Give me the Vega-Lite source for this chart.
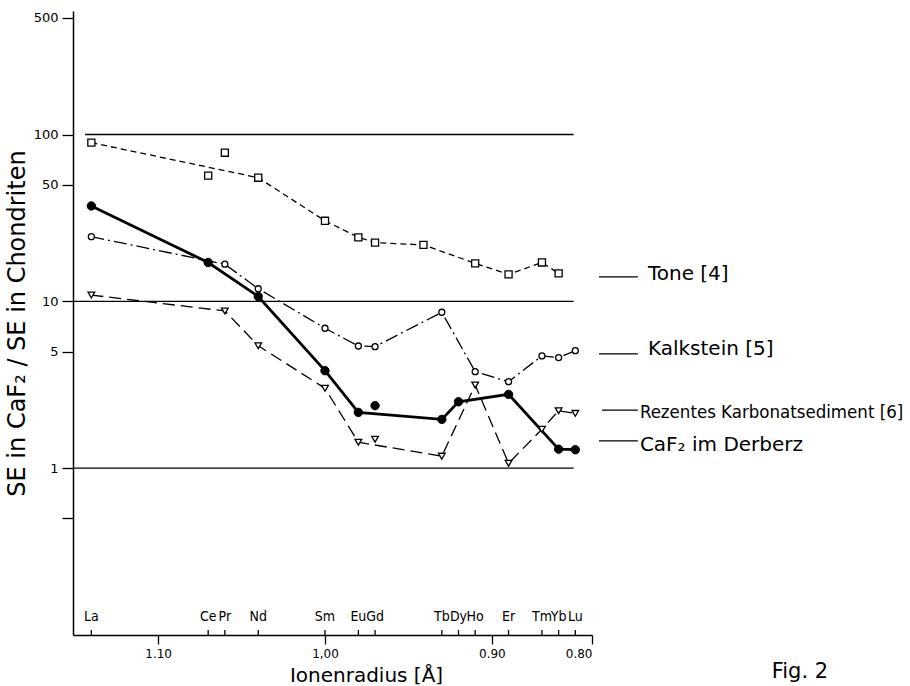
{
  "$schema": "https://vega.github.io/schema/vega-lite/v6.json",
  "width": 519,
  "height": 624,
  "autosize": {"type": "none"},
  "padding": {"left": 73, "top": 11, "right": 318, "bottom": 51},
  "background": "white",
  "config": {
    "view": {"stroke": null},
    "font": "DejaVu Sans",
    "axis": {"grid": false, "domainColor": "black", "tickColor": "black", "labelColor": "black", "titleColor": "black", "labelFont": "DejaVu Sans", "titleFont": "DejaVu Sans", "titleFontWeight": "normal", "domainWidth": 1.5, "tickWidth": 1.3}
  },
  "data": {"values": [
      {"series": "Tone", "el": "La", "r": 1.14, "v": 89.4},
      {"series": "Tone", "el": "Ce", "r": 1.07, "v": 56.7},
      {"series": "Tone", "el": "Pr", "r": 1.06, "v": 77.8},
      {"series": "Tone", "el": "Nd", "r": 1.04, "v": 55.1},
      {"series": "Tone", "el": "Sm", "r": 1.00, "v": 30.4},
      {"series": "Tone", "el": "Eu", "r": 0.98, "v": 24.2},
      {"series": "Tone", "el": "Gd", "r": 0.97, "v": 22.5},
      {"series": "Tone", "el": "Tb", "r": 0.941, "v": 21.8},
      {"series": "Tone", "el": "Ho", "r": 0.91, "v": 16.9},
      {"series": "Tone", "el": "Er", "r": 0.89, "v": 14.5},
      {"series": "Tone", "el": "Tm", "r": 0.87, "v": 17.1},
      {"series": "Tone", "el": "Yb", "r": 0.86, "v": 14.7},
      {"series": "Kalkstein", "el": "La", "r": 1.14, "v": 24.4},
      {"series": "Kalkstein", "el": "Pr", "r": 1.06, "v": 16.7},
      {"series": "Kalkstein", "el": "Nd", "r": 1.04, "v": 11.9},
      {"series": "Kalkstein", "el": "Sm", "r": 1.00, "v": 6.9},
      {"series": "Kalkstein", "el": "Eu", "r": 0.98, "v": 5.4},
      {"series": "Kalkstein", "el": "Gd", "r": 0.97, "v": 5.35},
      {"series": "Kalkstein", "el": "Tb", "r": 0.93, "v": 8.6},
      {"series": "Kalkstein", "el": "Ho", "r": 0.91, "v": 3.79},
      {"series": "Kalkstein", "el": "Er", "r": 0.89, "v": 3.3},
      {"series": "Kalkstein", "el": "Tm", "r": 0.87, "v": 4.71},
      {"series": "Kalkstein", "el": "Yb", "r": 0.86, "v": 4.6},
      {"series": "Kalkstein", "el": "Lu", "r": 0.85, "v": 5.06},
      {"series": "Rezentes", "el": "La", "r": 1.14, "v": 10.9},
      {"series": "Rezentes", "el": "Pr", "r": 1.06, "v": 8.76},
      {"series": "Rezentes", "el": "Nd", "r": 1.04, "v": 5.42},
      {"series": "Rezentes", "el": "Sm", "r": 1.00, "v": 3.01},
      {"series": "Rezentes", "el": "Eu", "r": 0.98, "v": 1.43},
      {"series": "Rezentes", "el": "Gd", "r": 0.97, "v": 1.49},
      {"series": "Rezentes", "el": "Tb", "r": 0.93, "v": 1.18},
      {"series": "Rezentes", "el": "Ho", "r": 0.91, "v": 3.15},
      {"series": "Rezentes", "el": "Er", "r": 0.89, "v": 1.07},
      {"series": "Rezentes", "el": "Tm", "r": 0.87, "v": 1.71},
      {"series": "Rezentes", "el": "Yb", "r": 0.86, "v": 2.21},
      {"series": "Rezentes", "el": "Lu", "r": 0.85, "v": 2.13},
      {"series": "CaF2", "el": "La", "r": 1.14, "v": 37.3},
      {"series": "CaF2", "el": "Ce", "r": 1.07, "v": 17.1},
      {"series": "CaF2", "el": "Nd", "r": 1.04, "v": 10.7},
      {"series": "CaF2", "el": "Sm", "r": 1.00, "v": 3.84},
      {"series": "CaF2", "el": "Eu", "r": 0.98, "v": 2.16},
      {"series": "CaF2", "el": "Gd", "r": 0.97, "v": 2.37},
      {"series": "CaF2", "el": "Tb", "r": 0.93, "v": 1.96},
      {"series": "CaF2", "el": "Dy", "r": 0.92, "v": 2.5},
      {"series": "CaF2", "el": "Er", "r": 0.89, "v": 2.77},
      {"series": "CaF2", "el": "Yb", "r": 0.86, "v": 1.3},
      {"series": "CaF2", "el": "Lu", "r": 0.85, "v": 1.29}
  ]},
  "encoding": {
    "x": {
      "field": "r", "type": "quantitative",
      "scale": {"domain": [0.84, 1.151], "reverse": true, "nice": false, "zero": false},
      "axis": {
        "values": [1.1, 1.0, 0.9, 0.84],
        "labelExpr": "datum.value > 1.05 ? '1.10' : datum.value > 0.95 ? '1,00' : datum.value > 0.87 ? '0.90' : '0.80'",
        "tickSize": 9, "labelFontSize": 12, "labelPadding": 4,
        "title": "Ionenradius [Å]", "titleFontSize": 20, "titleX": 293, "titleY": 46, "titleBaseline": "alphabetic"
      }
    },
    "y": {
      "field": "v", "type": "quantitative",
      "scale": {"type": "log", "domain": [0.1, 550], "nice": false},
      "axis": {
        "values": [500, 100, 50, 10, 5, 1, 0.5],
        "labelExpr": "datum.value < 1 ? '' : format(datum.value, 'd')",
        "tickSize": 11, "labelFontSize": 13, "labelPadding": 4,
        "title": "SE in CaF₂ / SE in Chondriten", "titleFontSize": 24, "titlePadding": 4
      }
    }
  },
  "layer": [
    {
      "transform": [{"aggregate": [{"op": "min", "field": "r", "as": "r"}, {"op": "min", "field": "v", "as": "v"}]}],
      "layer": [
        {"mark": {"type": "rule", "color": "black", "strokeWidth": 1.3},
         "encoding": {"x": {"datum": 1.1438, "type": "quantitative"}, "x2": {"datum": 0.851}, "y": {"datum": 100, "type": "quantitative"}}},
        {"mark": {"type": "rule", "color": "black", "strokeWidth": 1.3},
         "encoding": {"x": {"datum": 1.151, "type": "quantitative"}, "x2": {"datum": 0.851}, "y": {"datum": 10, "type": "quantitative"}}},
        {"mark": {"type": "rule", "color": "black", "strokeWidth": 1.3},
         "encoding": {"x": {"datum": 1.151, "type": "quantitative"}, "x2": {"datum": 0.851}, "y": {"datum": 1, "type": "quantitative"}}},
        {"mark": {"type": "rule", "color": "black", "strokeWidth": 1.3},
         "encoding": {"x": {"datum": 0.8358, "type": "quantitative"}, "x2": {"datum": 0.8125}, "y": {"datum": 14.0, "type": "quantitative"}}},
        {"mark": {"type": "text", "color": "black", "fontSize": 20, "align": "left", "baseline": "alphabetic", "text": "Tone [4]"},
         "encoding": {"x": {"datum": 0.8065, "type": "quantitative"}, "y": {"datum": 13.43, "type": "quantitative"}}},
        {"mark": {"type": "rule", "color": "black", "strokeWidth": 1.3},
         "encoding": {"x": {"datum": 0.8358, "type": "quantitative"}, "x2": {"datum": 0.8125}, "y": {"datum": 4.84, "type": "quantitative"}}},
        {"mark": {"type": "text", "color": "black", "fontSize": 20, "align": "left", "baseline": "alphabetic", "text": "Kalkstein [5]"},
         "encoding": {"x": {"datum": 0.8065, "type": "quantitative"}, "y": {"datum": 4.77, "type": "quantitative"}}},
        {"mark": {"type": "rule", "color": "black", "strokeWidth": 1.3},
         "encoding": {"x": {"datum": 0.834, "type": "quantitative"}, "x2": {"datum": 0.8125}, "y": {"datum": 2.23, "type": "quantitative"}}},
        {"mark": {"type": "text", "color": "black", "font": "DejaVu Sans Condensed", "fontSize": 18.5, "align": "left", "baseline": "alphabetic", "text": "Rezentes Karbonatsediment [6]"},
         "encoding": {"x": {"datum": 0.8113, "type": "quantitative"}, "y": {"datum": 2.0, "type": "quantitative"}}},
        {"mark": {"type": "rule", "color": "black", "strokeWidth": 1.3},
         "encoding": {"x": {"datum": 0.8358, "type": "quantitative"}, "x2": {"datum": 0.8125}, "y": {"datum": 1.456, "type": "quantitative"}}},
        {"mark": {"type": "text", "color": "black", "fontSize": 20, "align": "left", "baseline": "alphabetic", "text": "CaF₂ im Derberz"},
         "encoding": {"x": {"datum": 0.8113, "type": "quantitative"}, "y": {"datum": 1.268, "type": "quantitative"}}},
        {"mark": {"type": "text", "color": "black", "fontSize": 21, "align": "center", "baseline": "alphabetic", "text": "Fig. 2"},
         "encoding": {"x": {"datum": 0.7154, "type": "quantitative"}, "y": {"datum": 0.0553, "type": "quantitative"}}}
      ]
    },
    {
      "transform": [{"aggregate": [{"op": "min", "field": "r", "as": "r"}, {"op": "min", "field": "v", "as": "v"}], "groupby": ["el"]}],
      "layer": [
        {"mark": {"type": "rule", "color": "black", "strokeWidth": 1.3},
         "encoding": {"y": {"datum": 0.1, "type": "quantitative"}, "y2": {"datum": 0.1072}}},
        {"mark": {"type": "text", "color": "black", "font": "'Liberation Sans Narrow', 'DejaVu Sans Condensed', sans-serif", "fontSize": 14, "align": "center", "baseline": "alphabetic"},
         "encoding": {"y": {"datum": 0.1214, "type": "quantitative"}, "text": {"field": "el"}}}
      ]
    },
    {
      "transform": [{"filter": "datum.series == 'Tone' && datum.el != 'Ce' && datum.el != 'Pr'"}],
      "mark": {"type": "line", "color": "black", "strokeWidth": 1.3, "strokeDash": [6, 4]},
      "encoding": {}
    },
    {
      "transform": [{"filter": "datum.series == 'Kalkstein'"}],
      "mark": {"type": "line", "color": "black", "strokeWidth": 1.3, "strokeDash": [13, 4, 2, 4]},
      "encoding": {}
    },
    {
      "transform": [{"filter": "datum.series == 'Rezentes' && datum.el != 'Gd'"}],
      "mark": {"type": "line", "color": "black", "strokeWidth": 1.3, "strokeDash": [12, 6]},
      "encoding": {}
    },
    {
      "transform": [{"filter": "datum.series == 'CaF2' && datum.el != 'Gd'"}],
      "mark": {"type": "line", "color": "black", "strokeWidth": 2.8},
      "encoding": {}
    },
    {
      "transform": [{"filter": "datum.series == 'Tone'"}],
      "mark": {"type": "point", "shape": "square", "filled": true, "fill": "white", "stroke": "black", "strokeWidth": 1.3, "size": 50, "opacity": 1}
    },
    {
      "transform": [{"filter": "datum.series == 'Kalkstein'"}],
      "mark": {"type": "point", "shape": "circle", "filled": true, "fill": "white", "stroke": "black", "strokeWidth": 1.3, "size": 36, "opacity": 1}
    },
    {
      "transform": [{"filter": "datum.series == 'Rezentes'"}],
      "mark": {"type": "point", "shape": "triangle-down", "filled": true, "fill": "white", "stroke": "black", "strokeWidth": 1.3, "size": 45, "opacity": 1}
    },
    {
      "transform": [{"filter": "datum.series == 'CaF2'"}],
      "mark": {"type": "point", "shape": "circle", "filled": true, "fill": "black", "stroke": "black", "strokeWidth": 1, "size": 70, "opacity": 1}
    }
  ]
}
